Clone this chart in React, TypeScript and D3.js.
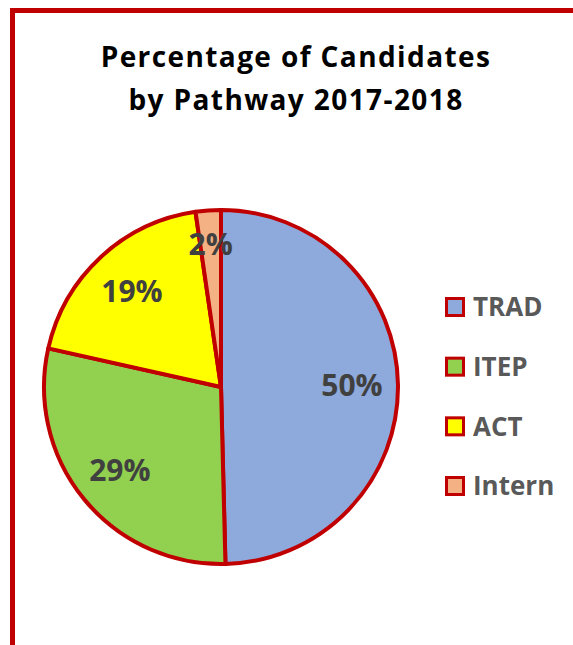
import React from "react";
import * as d3 from "d3";

const categories = ["TRAD", "ITEP", "ACT", "Intern"];
const values = [49.6, 28.9, 19.2, 2.3];
const labels = ["50%", "29%", "19%", "2%"];
const colors = ["#8EA9DB", "#92D050", "#FFFF00", "#F4B183"];
const titleLines = ["Percentage of Candidates", "by Pathway 2017-2018"];

const W = 573;
const H = 645;
const RED = "#C00000";
const FONT = "'Open Sans', Lato, sans-serif";

export default function App() {
  const cx = 221;
  const cy = 387;
  const r = 177;
  const data = categories.map((c, i) => ({ c, v: values[i], label: labels[i], color: colors[i] }));
  const pie = d3.pie<any>().sort(null).value((d: any) => d.v).startAngle(0).endAngle(2 * Math.PI);
  const arcs = pie(data);
  const arc = d3.arc<any>().innerRadius(0).outerRadius(r);
  const labelArc = (f: number) => d3.arc<any>().innerRadius(r * f).outerRadius(r * f);

  const legendY = d3.scalePoint<string>().domain(categories).range([307, 486]);

  return (
    <svg
      width={W}
      height={H}
      style={{ position: "absolute", left: 0, top: 0, background: "#fff" }}
    >
      <rect x={12.5} y={10.5} width={W + 20} height={H + 20} fill="#fff" stroke={RED} strokeWidth={5} />
      {titleLines.map((t, i) => (
        <text
          key={i}
          x={296}
          y={67 + i * 43}
          textAnchor="middle"
          fontFamily={FONT}
          fontWeight="bold"
          fontSize={28}
          letterSpacing={1.4}
          fill="#000"
        >
          {t}
        </text>
      ))}
      <g transform={`translate(${cx},${cy})`}>
        {arcs.map((a, i) => (
          <path key={i} d={arc(a) as string} fill={a.data.color} stroke={RED} strokeWidth={4} strokeLinejoin="round" />
        ))}
        {arcs.map((a, i) => {
          const f = a.data.v < 5 ? 0.81 : 0.74;
          const [x, y] = labelArc(f).centroid(a);
          return (
            <text
              key={"l" + i}
              x={x}
              y={y}
              dy="0.36em"
              textAnchor="middle"
              fontFamily={FONT}
              fontWeight="bold"
              fontSize={30}
              fill="#404040"
            >
              {a.data.label}
            </text>
          );
        })}
      </g>
      {data.map((d, i) => {
        const y = legendY(d.c) as number;
        return (
          <g key={"lg" + i}>
            <rect x={446.5} y={y - 8.5} width={17} height={17} fill={d.color} stroke={RED} strokeWidth={3} />
            <text
              x={473}
              y={y}
              dy="0.36em"
              fontFamily={FONT}
              fontWeight="bold"
              fontSize={26}
              fill="#595959"
            >
              {d.c}
            </text>
          </g>
        );
      })}
    </svg>
  );
}
